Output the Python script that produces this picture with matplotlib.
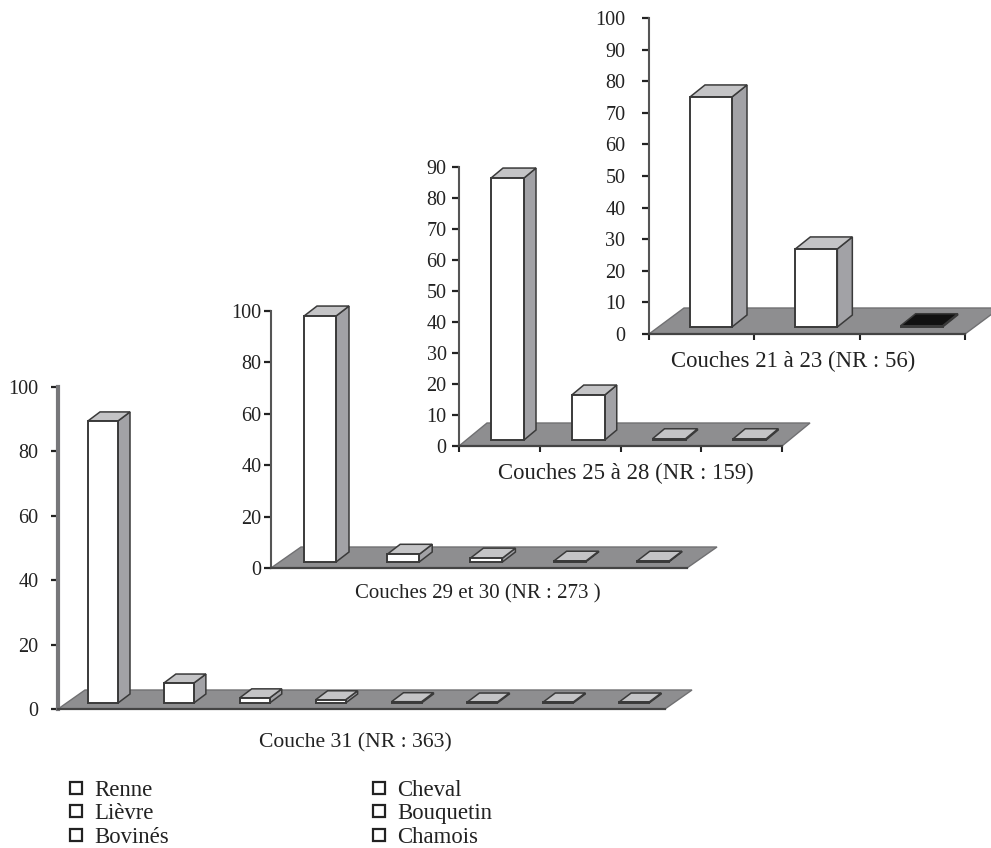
import matplotlib
matplotlib.use("Agg")
import matplotlib.pyplot as plt
from matplotlib.lines import Line2D
from matplotlib.patches import Polygon

plt.rcParams['font.family'] = ['Liberation Serif', 'DejaVu Serif']

W, H = 991, 848

# values (%)
couche31 = [87.6, 6.2, 1.6, 1.0, 0.4, 0.3, 0.3, 0.3]
couches29 = [95.7, 3.0, 1.5, 0.3, 0.3]
couches25 = [84.5, 14.5, 0.4, 0.4]
couches21 = [72.8, 24.7, 0.4]

ticks31 = [0, 20, 40, 60, 80, 100]
ticks29 = [0, 20, 40, 60, 80, 100]
ticks25 = [0, 10, 20, 30, 40, 50, 60, 70, 80, 90]
ticks21 = [0, 10, 20, 30, 40, 50, 60, 70, 80, 90, 100]

titles = ["Couche 31 (NR : 363)", "Couches 29 et 30 (NR : 273 )",
          "Couches 25 à 28 (NR : 159)", "Couches 21 à 23 (NR : 56)"]
taxa_left = ["Renne", "Lièvre", "Bovinés"]
taxa_right = ["Cheval", "Bouquetin", "Chamois"]

FLOOR = "#8e8e90"
SIDE = "#a2a2a6"
TOP = "#c4c4c6"
EDGE = "#3a3a3a"


def pixelAxes(fig, x0, x1, ytop, ybottom):
    ax = fig.add_axes([x0 / W, 1 - ybottom / H, (x1 - x0) / W, (ybottom - ytop) / H])
    ax.patch.set_alpha(0)
    return ax


def drawPanel(fig, values, ticks, box, floor, bar, title, title_pos, title_size=16.4, pad=4, wall=False, xticks=False, dark=()):
    x0, x1, ytop, ybottom = box
    floor_dx, floor_dy = floor
    lead, width, lift, dx, dy = bar
    n = len(values)
    ax = pixelAxes(fig, x0, x1, ytop, ybottom)
    ax.set_xlim(0, n)
    ax.set_ylim(0, ticks[-1])
    ux = (x1 - x0) / n
    uy = (ybottom - ytop) / ticks[-1]

    ax.add_patch(Polygon([(0, 0), (n, 0), (n + floor_dx / ux, floor_dy / uy), (floor_dx / ux, floor_dy / uy)],
                         closed=True, fc=FLOOR, ec="#707072", lw=1, clip_on=False, zorder=1))

    for i, v in enumerate(values):
        left = i + lead / ux
        right = left + width / ux
        base = lift / uy
        top = base + v
        ddx = dx / ux
        ddy = dy / uy
        black = i in dark
        ax.add_patch(Polygon([(right, base), (right + ddx, base + ddy), (right + ddx, top + ddy), (right, top)],
                             closed=True, fc="#111111" if black else SIDE, ec=EDGE, lw=1.1, clip_on=False, zorder=3))
        ax.add_patch(Polygon([(left, top), (right, top), (right + ddx, top + ddy), (left + ddx, top + ddy)],
                             closed=True, fc="#111111" if black else TOP, ec=EDGE, lw=1.1, clip_on=False, zorder=3))
        ax.add_patch(Polygon([(left, base), (right, base), (right, top), (left, top)],
                             closed=True, fc="#111111" if black else "white", ec=EDGE, lw=1.4, clip_on=False, zorder=4))

    for side in ["top", "right"]:
        ax.spines[side].set_visible(False)
    ax.spines["bottom"].set_color("#444444")
    ax.spines["bottom"].set_linewidth(1.6)
    ax.spines["bottom"].set_zorder(5)
    ax.spines["left"].set_color("#77777a" if wall else "#555555")
    ax.spines["left"].set_linewidth(3 if wall else 1.5)

    ax.set_yticks(ticks)
    ax.tick_params(axis="y", length=5, width=1.6, color="#222222", labelsize=14.5, pad=pad, labelcolor="#222222")
    if xticks:
        ax.set_xticks(range(n + 1))
        ax.set_xticklabels([])
        ax.tick_params(axis="x", length=4, width=1.5, color="#222222")
    else:
        ax.set_xticks([])
    fig.text(title_pos[0] / W, 1 - title_pos[1] / H, title, fontsize=title_size, color="#222222", ha="center", va="center")
    return ax


fig = plt.figure(figsize=(W / 100, H / 100), dpi=100, facecolor="white")

drawPanel(fig, couche31, ticks31, (58, 665, 387, 709), (27, 19), (30, 30, 6, 12, 9),
          titles[0], (355, 743), title_size=15.6, pad=9, wall=True)
drawPanel(fig, couches29, ticks29, (271, 687, 311, 568), (30, 21), (33, 32, 6, 13, 10),
          titles[1], (478, 594), title_size=15, pad=2)
drawPanel(fig, couches25, ticks25, (459, 782, 167, 446), (28, 23), (32, 33, 6, 12, 10),
          titles[2], (626, 473), pad=4, xticks=True)
drawPanel(fig, couches21, ticks21, (649, 965, 18, 334), (35, 26), (41, 42, 7, 15, 12),
          titles[3], (793, 361), pad=12, xticks=True, dark=(2,))

handles = [Line2D([], [], ls="none", marker="s", ms=8, mfc="white", mec="#222222", mew=1.6)
           for _ in taxa_left + taxa_right]
leg = fig.legend(handles, taxa_left + taxa_right, ncol=2, frameon=False, fontsize=16.4,
                 loc="upper left", bbox_to_anchor=(65 / W, 1 - 780 / H), borderaxespad=0, borderpad=0,
                 handlelength=1.0, handletextpad=0.3, labelspacing=0.1, columnspacing=8.7,
                 labelcolor="#222222")

fig.savefig("out.png", dpi=100)
